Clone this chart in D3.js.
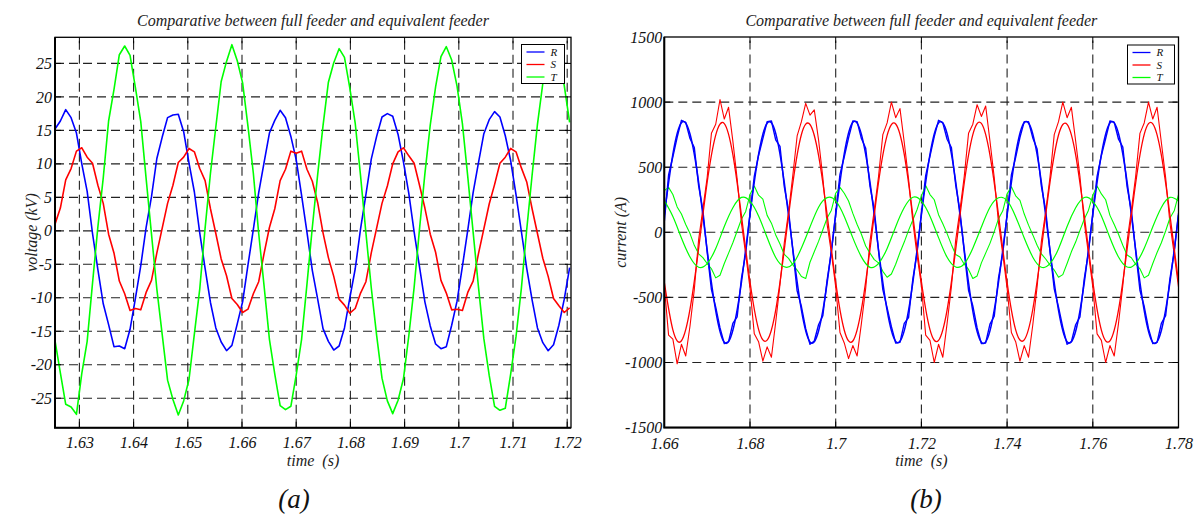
<!DOCTYPE html>
<html><head><meta charset="utf-8">
<script src="https://cdn.jsdelivr.net/npm/d3@7"></script>
<style>
body{margin:0;background:#fff}
</style>
</head><body>
<script>
// ---------- DATA ----------
// Panel (a): voltage (kV), one sample per 18 degrees of the waveform, starting at t = 1.6255 s
const voltT0 = 1.6255, voltDt = 0.000989;
const voltR = [15.2,16.4,18.1,16.9,14.6,10.0,5.9,-0.4,-5.8,-10.9,
 -14.0,-17.3,-17.2,-17.6,-14.7,-10.1,-5.2,0.5,5.1,10.8,
 14.0,16.9,17.3,17.4,14.8,10.1,5.8,-0.3,-5.6,-10.7,
 -14.5,-16.6,-17.9,-17.1,-13.9,-10.6,-5.1,0.2,5.7,10.2,
 14.6,16.5,18.0,16.9,14.1,10.6,5.3,-0.2,-5.9,-10.2,
 -14.6,-16.5,-17.8,-17.2,-14.5,-10.0,-5.7,0.3,5.4,10.7,
 14.1,17.0,17.5,17.1,14.4,10.3,5.6,-0.2,-5.4,-10.6,
 -14.2,-16.9,-17.6,-17.3,-14.1,-10.5,-5.3,0.1,5.7,10.2,
 14.5,16.6,17.8,17.0,14.2,10.5,5.4,-0.1,-5.6,-10.3,
 -14.5,-16.7,-17.9,-17.0,-14.1,-10.2,-5.5];
const voltS = [1.0,3.4,7.6,9.3,11.9,12.4,11.0,10.1,6.8,4.1,
 -0.5,-3.3,-7.5,-9.4,-11.9,-11.6,-11.8,-9.2,-7.4,-3.3,
 0.4,4.1,6.8,10.2,11.0,12.3,11.8,9.3,7.5,3.3,
 -0.4,-4.2,-6.7,-10.1,-11.0,-12.2,-11.7,-9.4,-7.6,-3.4,
 0.5,3.3,7.5,9.2,11.9,11.6,11.9,9.2,7.4,4.2,
 -0.3,-4.0,-6.8,-10.2,-11.1,-12.3,-11.6,-9.3,-7.6,-3.3,
 0.4,4.1,6.7,10.0,11.8,12.4,11.2,10.1,6.8,3.4,
 -0.5,-3.2,-7.4,-9.3,-11.8,-11.7,-11.9,-9.2,-7.5,-3.4,
 0.3,4.0,6.9,10.1,11.0,12.3,11.8,9.4,7.3,3.3,
 -0.4,-4.1,-6.8,-10.1,-11.2,-12.2,-11.5];
const voltTp = [-16.4,-21.2,-25.9,-26.3,-27.4,-21.3,-16.5,-7.8,0.6,7.9,
 16.4,21.1,26.3,27.6,26.2,21.4,16.3,7.8,-0.5,-8.7,
 -15.5,-22.3,-25.2,-27.5,-25.4,-22.2,-15.4,-8.7,0.4,8.6,
 15.5,22.3,25.3,27.8,25.4,22.1,15.6,8.6,-0.4,-8.2,
 -16.2,-21.4,-26.1,-26.7,-26.2,-21.5,-16.2,-8.0,0.5,8.4,
 15.7,22.2,25.1,27.2,25.9,21.3,16.1,8.2,-0.3,-8.5,
 -15.6,-22.0,-25.4,-27.3,-25.3,-22.1,-15.7,-8.4,0.3,8.5,
 15.8,21.5,26.0,27.5,25.5,21.6,16.0,8.1,-0.2,-8.4,
 -16.1,-21.6,-26.2,-26.8,-26.5,-21.4,-15.8,-8.6,0.2,8.3,
 15.9,22.0,25.4,27.3,25.6,21.7,16.2];

// Panel (b): current (A). Full feeder sampled every 1 ms, equivalent every 2 ms, from t = 1.66 s
const currT0 = 1.66, currFullDt = 0.001, currEqDt = 0.002;
const currRFull = [80,440,580,730,860,845,720,650,360,170,-150,-440,-575,-735,-855,-840,-700,-650,-355,-160,
 140,430,590,720,850,855,710,660,350,165,-140,-450,-570,-740,-860,-835,-710,-640,-365,-150,
 150,445,580,725,855,850,720,645,355,175,-145,-440,-580,-725,-850,-845,-700,-655,-360,-155,
 145,435,585,735,860,840,715,650,365,160,-150,-445,-565,-735,-855,-850,-705,-645,-350,-160,
 140,440,575,730,850,850,725,640,355,170,-140,-435,-575,-730,-860,-840,-710,-650,-360,-150,
 150,430,590,720,855,845,715,655,350,165,-145,-445,-570,-740,-855,-845,-700,-640,-355,-155,
 145];
const currSFull = [-410,-790,-820,-1010,-860,-950,-720,-440,-60,180,420,760,830,1020,870,960,700,410,70,-170,
 -430,-780,-840,-990,-880,-960,-690,-400,-80,160,440,740,850,990,900,940,710,420,60,-160,
 -420,-770,-850,-970,-870,-950,-700,-430,-70,170,430,750,840,1000,880,950,690,410,80,-180,
 -410,-790,-830,-1000,-860,-960,-700,-420,-60,170,430,760,830,980,890,970,700,420,70,-170,
 -430,-770,-840,-990,-870,-960,-710,-420,-70,160,420,750,850,1000,880,960,700,430,80,-170,
 -420,-780,-830,-1000,-870,-950,-700,-410,-70,170,430,760,840,1000,870,960,690,420,70,-170,
 -420];
const currTFull = [320,345,290,195,140,60,-10,-100,-165,-195,-240,-280,-350,-330,-240,-160,-80,10,100,160,
 290,355,285,255,130,70,-20,-90,-170,-200,-250,-290,-340,-355,-230,-150,-70,20,110,170,
 300,345,300,240,145,60,-15,-105,-160,-210,-235,-300,-345,-320,-245,-155,-75,15,95,175,
 280,360,290,250,135,65,-10,-95,-170,-190,-245,-285,-355,-335,-235,-160,-85,5,105,165,
 295,350,280,245,140,55,-20,-100,-165,-205,-250,-290,-345,-325,-240,-150,-75,15,100,170,
 285,355,295,250,130,60,-15,-100,-175,-195,-245,-280,-350,-330,-240,-155,-80,10,110,165,
 290];
const currREq = [130,600,842,755,388,-135,-603,-845,-752,-384,
 136,598,838,760,383,-130,-598,-842,-758,-389,
 131,604,845,752,386,-134,-600,-838,-755,-386,
 134,599,840,758,390,-132,-605,-844,-757,-383,
 129,602,843,754,384,-137,-599,-840,-760,-388,
 135,597,839,759,387,-131,-602,-846,-754,-385,132];
const currSEq = [-385,-750,-833,-590,-128,383,746,835,596,129,
 -380,-745,-828,-597,-134,379,751,828,591,134,
 -383,-752,-835,-592,-130,385,744,832,598,128,
 -378,-747,-830,-595,-133,380,750,836,593,132,
 -384,-749,-826,-591,-129,382,747,829,595,130,
 -379,-751,-834,-596,-132,378,752,833,592,133,-382];
const currTEq = [243,121,-44,-190,-268,-240,-125,44,189,268,
 239,125,-40,-193,-265,-243,-121,41,193,266,
 242,122,-43,-189,-269,-239,-124,43,190,269,
 240,124,-41,-192,-266,-242,-122,40,192,265,
 243,120,-44,-191,-268,-241,-126,45,188,267,
 238,126,-42,-190,-267,-240,-123,42,191,268,241];

// Ticks
const voltXTicks = [1.63,1.64,1.65,1.66,1.67,1.68,1.69,1.70,1.71,1.72];
const voltXLabels = ["1.63","1.64","1.65","1.66","1.67","1.68","1.69","1.7","1.71","1.72"];
const voltYTicks = [-25,-20,-15,-10,-5,0,5,10,15,20,25];
const voltYLabels = ["-25","-20","-15","-10","-5","0","5","10","15","20","25"];
const currXTicks = [1.66,1.68,1.70,1.72,1.74,1.76,1.78];
const currXLabels = ["1.66","1.68","1.7","1.72","1.74","1.76","1.78"];
const currYTicks = [-1500,-1000,-500,0,500,1000,1500];
const currYLabels = ["-1500","-1000","-500","0","500","1000","1500"];
const legendNames = ["R","S","T"];
const phaseColors = ["#0000ff","#ff0000","#00ff00"];
const titleText = "Comparative between full feeder and equivalent feeder";

// ---------- DRAWING ----------
const FONT = "'Liberation Serif', 'Times New Roman', serif";
const W = 1199, H = 518;
const svg = d3.select("body").append("svg").attr("width", W).attr("height", H)
  .attr("font-family", FONT).attr("font-style", "italic");
svg.append("rect").attr("width", W).attr("height", H).attr("fill", "#fff");

function txt(sel) {
  return sel.attr("font-family", FONT).attr("font-style", "italic");
}

function panel(p) {
  const x = d3.scaleLinear().domain(p.xDomain).range([p.left, p.right]);
  const y = d3.scaleLinear().domain(p.yDomain).range([p.bottom, p.top]);
  const g = svg.append("g");
  g.append("clipPath").attr("id", "clip" + p.id).append("rect")
    .attr("x", p.left).attr("y", p.top).attr("width", p.right - p.left).attr("height", p.bottom - p.top);

  // grid
  const gx = p.xTicks.filter(t => x(t) > p.left + 2 && x(t) < p.right - 2);
  const gy = p.yTicks.filter(t => y(t) < p.bottom - 2 && y(t) > p.top + 2);
  g.append("g").selectAll("line").data(gx).join("line")
    .attr("x1", d => x(d)).attr("x2", d => x(d)).attr("y1", p.bottom).attr("y2", p.top)
    .attr("stroke", "#222").attr("stroke-width", 1.1).attr("stroke-dasharray", "9,5");
  g.append("g").selectAll("line").data(gy).join("line")
    .attr("y1", d => y(d)).attr("y2", d => y(d)).attr("x1", p.left).attr("x2", p.right)
    .attr("stroke", "#222").attr("stroke-width", 1.1).attr("stroke-dasharray", "9,5");

  // series
  const sg = g.append("g").attr("clip-path", "url(#clip" + p.id + ")");
  p.series.forEach(s => {
    const line = d3.line().x((d, i) => x(s.t0 + i * s.dt)).y(d => y(d)).curve(s.curve || d3.curveLinear);
    sg.append("path").datum(s.values).attr("d", line).attr("fill", "none")
      .attr("stroke", s.color).attr("stroke-width", s.width).attr("stroke-linejoin", "round");
  });

  // inside tick marks
  const tl = 6;
  g.append("g").selectAll("path").data(gx).join("path")
    .attr("d", d => `M${x(d)},${p.bottom}v${-tl}M${x(d)},${p.top}v${tl}`)
    .attr("stroke", "#000").attr("stroke-width", 1);
  g.append("g").selectAll("path").data(gy).join("path")
    .attr("d", d => `M${p.left},${y(d)}h${tl}M${p.right},${y(d)}h${-tl}`)
    .attr("stroke", "#000").attr("stroke-width", 1);

  // box
  g.append("rect").attr("x", p.left).attr("y", p.top).attr("width", p.right - p.left).attr("height", p.bottom - p.top)
    .attr("fill", "none").attr("stroke", "#000").attr("stroke-width", 1.3);
  g.append("path").attr("d", `M${p.left},${p.top}V${p.bottom}H${p.right}`)
    .attr("fill", "none").attr("stroke", "#000").attr("stroke-width", 2);

  // axes (labels only)
  const ax = g.append("g").attr("transform", `translate(0,${p.bottom})`)
    .call(d3.axisBottom(x).tickValues(p.xTicks).tickFormat((d, i) => p.xLabels[i]).tickSize(0).tickPadding(p.xPad));
  const ay = g.append("g").attr("transform", `translate(${p.left},0)`)
    .call(d3.axisLeft(y).tickValues(p.yTicks).tickFormat((d, i) => p.yLabels[i]).tickSize(0).tickPadding(p.yPad));
  [ax, ay].forEach(a => {
    a.attr("font-family", FONT).attr("font-size", 16);
    a.select(".domain").remove();
    txt(a.selectAll("text")).attr("font-size", 16).attr("fill", "#111");
  });

  const cx = (p.left + p.right) / 2;
  txt(g.append("text")).attr("x", cx).attr("y", 26).attr("text-anchor", "middle")
    .attr("font-size", 16).attr("fill", "#222").text(titleText);
  txt(g.append("text")).attr("x", cx).attr("y", p.xLabelY).attr("text-anchor", "middle")
    .attr("font-size", 16).attr("fill", "#222").style("white-space", "pre").text("time  (s)");
  txt(g.append("text")).attr("transform", `translate(${p.yLabelX},${(p.top + p.bottom) / 2}) rotate(-90)`)
    .attr("text-anchor", "middle").attr("dy", "0.35em")
    .attr("font-size", 16).attr("fill", "#222").text(p.yLabel);
  txt(g.append("text")).attr("x", p.capX).attr("y", 508).attr("text-anchor", "middle")
    .attr("font-size", 27).attr("fill", "#111").text(p.caption);

  // legend
  const L = p.legend;
  const lg = g.append("g");
  lg.append("rect").attr("x", L.x).attr("y", L.y).attr("width", L.w).attr("height", L.h)
    .attr("fill", "#fff").attr("stroke", "#000").attr("stroke-width", 1);
  legendNames.forEach((n, i) => {
    const yy = L.y + 7.5 + i * 12.5;
    lg.append("line").attr("x1", L.x + 5).attr("x2", L.x + 23).attr("y1", yy).attr("y2", yy)
      .attr("stroke", phaseColors[i]).attr("stroke-width", 1.3);
    txt(lg.append("text")).attr("x", L.x + 29).attr("y", yy).attr("dy", "0.35em")
      .attr("font-size", 11).attr("fill", "#111").text(n);
  });
}

panel({
  id: "a", left: 55, right: 571, top: 37.3, bottom: 427.7,
  xDomain: [1.6255, 1.7207], yDomain: [-29.4, 28.9],
  xTicks: voltXTicks, xLabels: voltXLabels, yTicks: voltYTicks, yLabels: voltYLabels,
  xPad: 9, yPad: 3, xLabelY: 466, yLabelX: 31, yLabel: "voltage (kV)",
  capX: 294, caption: "(a)",
  legend: {x: 521.5, y: 44.5, w: 43, h: 39},
  series: [
    {values: voltR, t0: voltT0, dt: voltDt, color: phaseColors[0], width: 1.6},
    {values: voltS, t0: voltT0, dt: voltDt, color: phaseColors[1], width: 1.6},
    {values: voltTp, t0: voltT0, dt: voltDt, color: phaseColors[2], width: 1.6}
  ]
});

panel({
  id: "b", left: 664.3, right: 1178.5, top: 37, bottom: 427.6,
  xDomain: [1.66, 1.78], yDomain: [-1500, 1500],
  xTicks: currXTicks, xLabels: currXLabels, yTicks: currYTicks, yLabels: currYLabels,
  xPad: 10, yPad: 2, xLabelY: 466, yLabelX: 620, yLabel: "current (A)",
  capX: 926, caption: "(b)",
  legend: {x: 1127.5, y: 45, w: 47, h: 39},
  series: [
    {values: currRFull, t0: currT0, dt: currFullDt, color: phaseColors[0], width: 1.4},
    {values: currSFull, t0: currT0, dt: currFullDt, color: phaseColors[1], width: 1.1},
    {values: currTFull, t0: currT0, dt: currFullDt, color: phaseColors[2], width: 1.1},
    {values: currREq, t0: currT0, dt: currEqDt, color: phaseColors[0], width: 1.5, curve: d3.curveNatural},
    {values: currSEq, t0: currT0, dt: currEqDt, color: phaseColors[1], width: 1.3, curve: d3.curveNatural},
    {values: currTEq, t0: currT0, dt: currEqDt, color: phaseColors[2], width: 1.2, curve: d3.curveNatural}
  ]
});
</script>
</body></html>
